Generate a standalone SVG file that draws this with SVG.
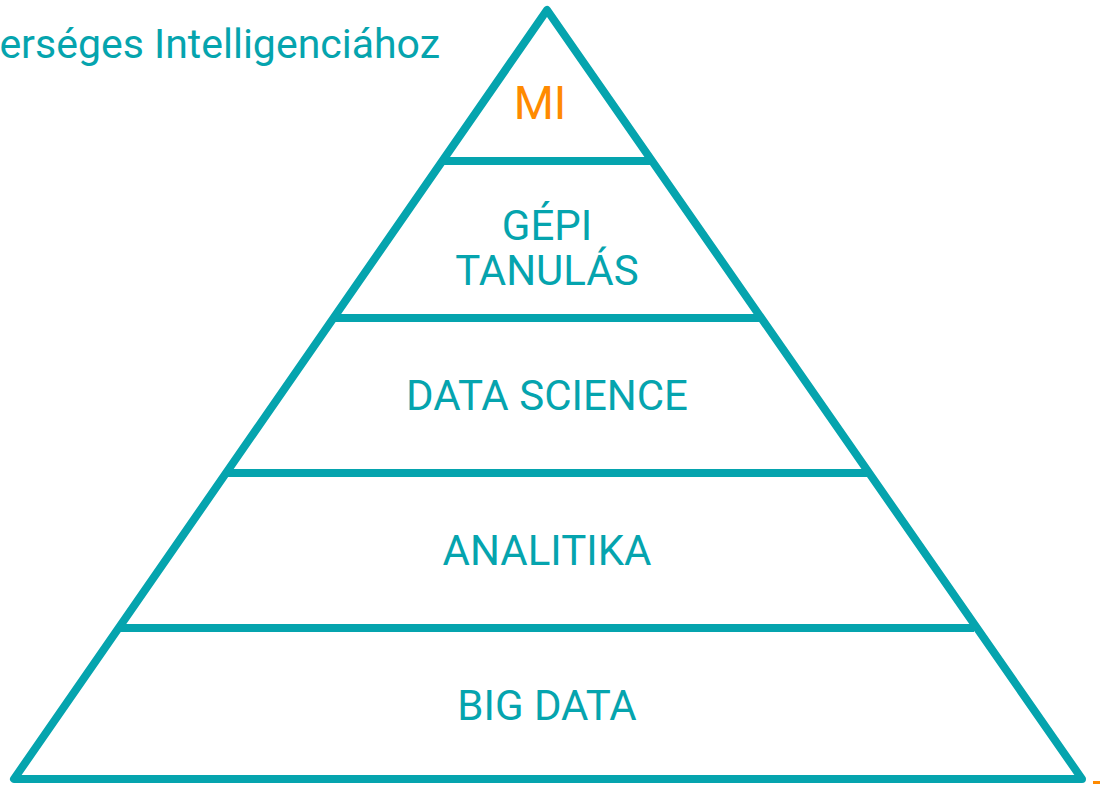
<svg xmlns="http://www.w3.org/2000/svg" width="1100" height="786" viewBox="0 0 1100 786">
<style>
.edge{stroke:#05A4AE;stroke-width:8;fill:none;stroke-linejoin:round;stroke-linecap:butt}
.lbl{font-family:Roboto,"Liberation Sans",sans-serif;fill:#05A4AE;font-size:42px;text-anchor:middle}
.title{font-family:Roboto,"Liberation Sans",sans-serif;fill:#05A4AE;font-size:41px}
</style>
<rect width="1100" height="786" fill="#ffffff"/>
<text class="title" x="440" y="58" text-anchor="end">erséges Intelligenciához</text>
<g id="connectors">
<path class="edge" d="M547,10 L14,779 L1082,779 Z"/>
<line class="edge" x1="442" y1="161" x2="652" y2="161"/>
<line class="edge" x1="334" y1="318" x2="760" y2="318"/>
<line class="edge" x1="227" y1="473" x2="867" y2="473"/>
<line class="edge" x1="120" y1="628" x2="974" y2="628"/>
</g>
<g id="mi"><text x="540" y="119" style="font-family:Roboto,'Liberation Sans',sans-serif;font-size:46px;fill:#FF8A00;text-anchor:middle">MI</text></g>
<g id="gepi"><text class="lbl" x="547" y="240">GÉPI</text><text class="lbl" x="547" y="285">TANULÁS</text></g>
<g id="datascience"><text class="lbl" x="547" y="410">DATA SCIENCE</text></g>
<g id="analitika"><text class="lbl" x="547" y="565">ANALITIKA</text></g>
<g id="bigdata"><text class="lbl" x="547" y="720">BIG DATA</text></g>
<rect x="1093" y="781" width="7" height="3" fill="#FF8A00"/>
</svg>
